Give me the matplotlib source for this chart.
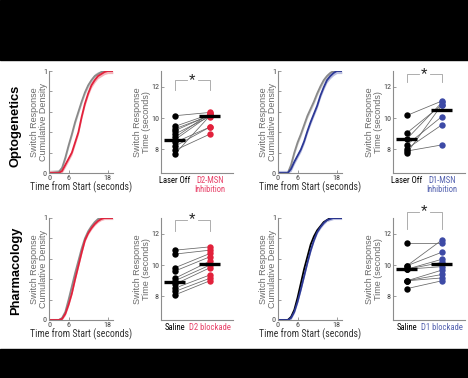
import numpy as np
import matplotlib
matplotlib.use('Agg')
import matplotlib.pyplot as plt
from matplotlib import font_manager
from matplotlib.font_manager import FontProperties
from matplotlib.patches import Rectangle

plt.rcParams['font.family'] = ['Liberation Sans', 'DejaVu Sans']


def find_narrow_font():
    """Horizontal text in the original looks condensed - look for a narrow face"""
    for name in ['Liberation Sans Narrow', 'Arial Narrow', 'Roboto Condensed',
                 'Noto Sans Condensed', 'Open Sans Condensed', 'DejaVu Sans Condensed']:
        try:
            return font_manager.findfont(name, fallback_to_default=False)
        except ValueError:
            pass
    for fam in ['DejaVu Sans', 'Noto Sans', 'Open Sans', 'Roboto']:
        path = font_manager.findfont(FontProperties(family=fam, stretch='condensed'))
        if 'ondensed' in path or 'arrow' in path:
            return path
    return None


narrow = find_narrow_font()
if narrow:
    HFONT, SCALE = FontProperties(fname=narrow), 1.0
else:
    HFONT, SCALE = FontProperties(family=['Liberation Sans', 'DejaVu Sans']), 0.82

# ---- data ----
cdf_t = [0, 3, 4, 5, 6, 7, 8, 9, 10, 11, 12, 13, 14, 15, 16, 17, 18, 19.5]

opto_d2_ctrl = [0, 0.01, 0.05, 0.15, 0.27, 0.38, 0.5, 0.6, 0.7, 0.79, 0.86, 0.91, 0.95, 0.97, 0.99, 1, 1, 1]
opto_d2_inh = [0, 0, 0.02, 0.08, 0.14, 0.2, 0.3, 0.4, 0.55, 0.68, 0.78, 0.86, 0.91, 0.95, 0.97, 0.99, 1, 1]
opto_d1_ctrl = [0, 0, 0.08, 0.2, 0.3, 0.38, 0.47, 0.56, 0.63, 0.7, 0.78, 0.85, 0.91, 0.95, 0.98, 1, 1, 1]
opto_d1_inh = [0, 0, 0.04, 0.11, 0.17, 0.23, 0.31, 0.41, 0.5, 0.58, 0.66, 0.76, 0.84, 0.91, 0.95, 0.98, 1, 1]
pharm_d2_ctrl = [0, 0, 0.02, 0.08, 0.2, 0.33, 0.46, 0.58, 0.7, 0.8, 0.87, 0.92, 0.96, 0.99, 1, 1, 1, 1]
pharm_d2_blk = [0, 0, 0.01, 0.06, 0.15, 0.26, 0.4, 0.53, 0.66, 0.78, 0.85, 0.9, 0.94, 0.97, 0.99, 1, 1, 1]
pharm_d1_ctrl = [0, 0, 0.03, 0.1, 0.22, 0.36, 0.5, 0.62, 0.74, 0.82, 0.88, 0.92, 0.96, 0.98, 1, 1, 1, 1]
pharm_d1_blk = [0, 0, 0.02, 0.08, 0.18, 0.3, 0.43, 0.56, 0.68, 0.78, 0.86, 0.91, 0.95, 0.98, 0.99, 1, 1, 1]

# per-mouse switch times (seconds), paired control -> manipulation
opto_d2_off = [10.15, 9.47, 9.32, 9.2, 8.98, 8.77, 8.62, 8.45, 8.2, 7.95, 7.72]
opto_d2_on = [10.36, 10.25, 10.15, 10.2, 10.1, 10.3, 10.2, 9.43, 9.43, 8.98, 10.15]
opto_d1_off = [10.17, 9.06, 8.68, 8.3, 8.05, 7.9, 7.78]
opto_d1_on = [11.09, 10.85, 11.0, 10.1, 9.57, 8.29, 10.85]
pharm_d2_sal = [10.95, 10.7, 9.83, 9.62, 9.16, 9.0, 8.78, 8.53, 8.32, 8.1]
pharm_d2_drug = [11.16, 10.95, 10.74, 10.53, 10.25, 10.0, 9.83, 9.37, 9.16, 9.0]
pharm_d1_sal = [11.4, 9.96, 9.96, 9.74, 9.74, 9.74, 9.0, 9.0, 9.0, 8.5]
pharm_d1_drug = [11.4, 11.6, 10.82, 10.37, 10.17, 9.9, 9.68, 9.4, 9.18, 9.0]

group_means = {
    'opto_d2': [8.58, 10.15],
    'opto_d1': [8.68, 10.49],
    'pharm_d2': [8.95, 10.06],
    'pharm_d1': [9.74, 10.06],
}

RED = '#e2213b'
RED_TXT = '#e8436a'
RED_FILL = '#f6b3bb'
BLUE = '#2c3896'
BLUE_PT = '#3d4aa6'
BLUE_TXT = '#5563b0'
BLUE_FILL = '#b9bde0'
GRAY = '#8a8a8a'
GRAY_FILL = '#cfcfcf'
SPINE = '#8c8c8c'
TXT = '#444444'
LABEL = '#6a6a6a'

W, H = 468, 378


def rect(x0, y0, x1, y1):
    return [x0 / W, 1 - y1 / H, (x1 - x0) / W, (y1 - y0) / H]


def hfont(size):
    fp = HFONT.copy()
    fp.set_size(size * SCALE)
    return fp


def style_axes(ax):
    for s in ['top', 'right']:
        ax.spines[s].set_visible(False)
    for s in ['left', 'bottom']:
        ax.spines[s].set_color(SPINE)
        ax.spines[s].set_linewidth(0.8)
    ax.tick_params(direction='in', length=2, width=0.6, colors=SPINE,
                   labelcolor=TXT, pad=1.5)
    for lab in ax.get_xticklabels() + ax.get_yticklabels():
        lab.set_fontproperties(hfont(5.9))


def cdf_panel(ax, ctrl, test, ctrl_col, test_col, ctrl_fill, test_fill, band=0.025):
    t = np.array(cdf_t)
    c = np.array(ctrl)
    e = np.array(test)
    if ctrl_fill:
        ax.fill_between(t, np.clip(c - band, 0, 1), np.clip(c + band, 0, 1),
                        color=ctrl_fill, lw=0)
    if test_fill:
        ax.fill_between(t, np.clip(e - band, 0, 1), np.clip(e + band, 0, 1),
                        color=test_fill, lw=0)
    ax.plot(t, c, color=ctrl_col, lw=1.3)
    ax.plot(t, e, color=test_col, lw=1.3)
    ax.set_xlim(0, 19.6)
    ax.set_ylim(0, 1.0)
    ax.set_xticks([0, 6, 18])
    ax.set_xticklabels(['0', '6', '18'])
    ax.set_yticks([0, 0.2, 0.4, 0.6, 0.8, 1])
    ax.set_yticklabels(['0', '', '', '', '', '1'])
    style_axes(ax)
    ax.set_xlabel('Time from Start (seconds)', color='#333333', labelpad=0.5,
                  fontproperties=hfont(7.0))
    ax.set_ylabel('Switch Response\nCumulative Density', fontsize=6.5, color=LABEL,
                  linespacing=1.0)
    ax.yaxis.set_label_coords(-0.02, 0.5)


def scatter_panel(ax, a, b, means, pt_col, labels, lab_col, br_top, br_drop):
    for ya, yb in zip(a, b):
        ax.plot([1, 2], [ya, yb], color='#666666', lw=0.55, zorder=1)
    ax.plot([1] * len(a), a, 'o', color='black', ms=4.6, mec='none', zorder=2)
    ax.plot([2] * len(b), b, 'o', color=pt_col, ms=4.6, mec='none', zorder=2)
    ax.plot([0.7, 1.3], [means[0]] * 2, color='black', lw=2.4, zorder=3,
            solid_capstyle='butt')
    ax.plot([1.7, 2.3], [means[1]] * 2, color='black', lw=2.4, zorder=3,
            solid_capstyle='butt')
    ax.set_xlim(0.6, 2.66)
    ax.set_ylim(6.5, 13)
    ax.set_yticks([8, 10, 12])
    ax.set_xticks([1, 2])
    ax.set_xticklabels(labels, linespacing=1.0)
    style_axes(ax)
    ax.tick_params(axis='x', length=0, pad=2)
    for lab, col in zip(ax.get_xticklabels(), ['black', lab_col]):
        lab.set_fontproperties(hfont(6.2))
        lab.set_color(col)
    ax.set_ylabel('Switch Response\nTime (seconds)', fontsize=6.5, color=LABEL,
                  linespacing=1.0)
    ax.yaxis.set_label_coords(-0.14, 0.5)
    # significance bracket
    bc = '#a0a0a0'
    ax.plot([1, 1, 1.35], [br_drop, br_top, br_top], color=bc, lw=0.6, clip_on=False)
    ax.plot([1.65, 2, 2], [br_top, br_top, br_drop], color=bc, lw=0.6, clip_on=False)
    ax.text(1.5, br_top, '*', ha='center', va='center', fontsize=12,
            color='#222222', clip_on=False)


fig = plt.figure(figsize=(W / 100, H / 100), dpi=100, facecolor='white')

# black bands at top and bottom
fig.patches.append(Rectangle((0, 1 - 60 / H), 1, 60 / H, transform=fig.transFigure,
                             color='black', zorder=0))
fig.patches.append(Rectangle((0, 0), 1, 29 / H, transform=fig.transFigure,
                             color='black', zorder=0))

ax1 = fig.add_axes(rect(49, 71, 113, 173))
cdf_panel(ax1, opto_d2_ctrl, opto_d2_inh, GRAY, RED, GRAY_FILL, RED_FILL)
ax2 = fig.add_axes(rect(161, 71, 233, 173))
scatter_panel(ax2, opto_d2_off, opto_d2_on, group_means['opto_d2'], RED,
              ['Laser Off', 'D2-MSN\nInhibition'], RED_TXT, 12.4, 11.8)
ax3 = fig.add_axes(rect(278, 71, 342, 173))
cdf_panel(ax3, opto_d1_ctrl, opto_d1_inh, GRAY, BLUE, GRAY_FILL, BLUE_FILL)
ax4 = fig.add_axes(rect(393, 71, 465, 173))
scatter_panel(ax4, opto_d1_off, opto_d1_on, group_means['opto_d1'], BLUE_PT,
              ['Laser Off', 'D1-MSN\nInhibition'], BLUE_TXT, 12.8, 12.3)

ax5 = fig.add_axes(rect(49, 218, 113, 320))
cdf_panel(ax5, pharm_d2_ctrl, pharm_d2_blk, GRAY, RED, GRAY_FILL, RED_FILL, band=0.015)
ax6 = fig.add_axes(rect(161, 218, 233, 320))
scatter_panel(ax6, pharm_d2_sal, pharm_d2_drug, group_means['pharm_d2'], RED,
              ['Saline', 'D2 blockade'], RED_TXT, 12.9, 12.2)
ax7 = fig.add_axes(rect(278, 218, 342, 320))
cdf_panel(ax7, pharm_d1_ctrl, pharm_d1_blk, 'black', BLUE, None, BLUE_FILL, band=0.015)
ax8 = fig.add_axes(rect(393, 218, 465, 320))
scatter_panel(ax8, pharm_d1_sal, pharm_d1_drug, group_means['pharm_d1'], BLUE_PT,
              ['Saline', 'D1 blockade'], BLUE_TXT, 13.4, 12.3)

fig.text(16 / W, 1 - 126 / H, 'Optogenetics', rotation=90, fontsize=9.3,
         fontweight='bold', ha='center', va='center', color='black')
fig.text(16 / W, 1 - 271 / H, 'Pharmacology', rotation=90, fontsize=9.3,
         fontweight='bold', ha='center', va='center', color='black')

fig.savefig('out.png', dpi=100, facecolor='white')
